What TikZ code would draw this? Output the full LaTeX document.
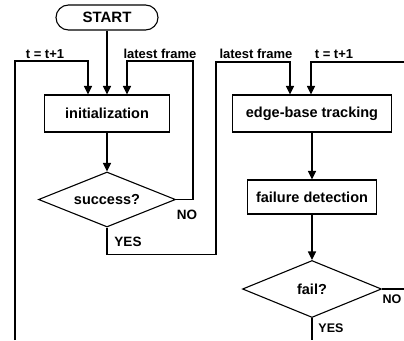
\documentclass[tikz,border=0pt]{standalone}
\usepackage{fontspec}
\setmainfont{Liberation Sans}
\usetikzlibrary{arrows.meta,shapes.geometric}
\tikzset{
  every node/.style={font=\bfseries\fontsize{14.5}{16}\selectfont},
  box/.style={draw,line width=1.1pt,rectangle,inner sep=0pt},
  startbox/.style={draw,line width=1.1pt,rectangle,rounded corners=12.5pt,inner sep=0pt,minimum width=102pt,minimum height=25pt,font=\bfseries\fontsize{15}{16}\selectfont},
  decision/.style={draw,line width=1.1pt,diamond,inner sep=0pt,shape aspect=2.5},
  lbl/.style={inner sep=0pt,font=\bfseries\fontsize{13}{14}\selectfont},
  conn/.style={line width=1.1pt},
  arr/.style={conn,-{Triangle[length=8.5pt,width=8pt]}}
}
\begin{document}
\begin{tikzpicture}[x=1pt,y=-1pt]
\useasboundingbox (0,0) rectangle (404,340);
% nodes
\node[startbox] (start) at (107,17.5) {START};
\node[box,minimum width=125pt,minimum height=37pt] (init) at (107,113.5) {initialization};
\node[decision,minimum width=137pt,minimum height=55pt] (success) at (107,199.5) {success?};
\node[box,minimum width=159pt,minimum height=37pt] (edge) at (312,113.5) {edge-base tracking};
\node[box,minimum width=129pt,minimum height=34pt] (failure) at (312,197) {failure detection};
\node[decision,minimum width=139pt,minimum height=57pt] (fail) at (312,289) {fail?};
% coordinates
\coordinate (lb) at (15,340);
\coordinate (tl) at (88,61);
\coordinate (rt) at (193,61);
\coordinate (lf) at (127,61);
\coordinate (yb) at (216,254.5);
\coordinate (lf2) at (290,62);
\coordinate (rr) at (404,62);
\coordinate (rt2) at (311,62);
\coordinate (re) at (404,289);
\coordinate (fb) at (312,340);
% connectors
\draw[arr] (start.south) -- (start.south |- init.north);
\draw[arr] (lb) |- (tl) -- (tl |- init.north);
\draw[arr] (success.east) -| (rt) -- (lf) -- (lf |- init.north);
\draw[arr] (init.south) -- (success.north);
\draw[arr] (success.south) |- (yb) |- (lf2) -- (lf2 |- edge.north);
\draw[arr] (rr) -- (rt2) -- (rt2 |- edge.north);
\draw[arr] (edge.south) -- (failure.north);
\draw[arr] (failure.south) -- (fail.north);
\draw[conn] (fail.east) -- (re);
\draw[conn] (fail.south) -- (fb);
% labels
\node[lbl] (l1) at (45,54) {t = t+1};
\node[lbl] (l2) at (160,54) {latest frame};
\node[lbl] (l3) at (256,54) {latest frame};
\node[lbl] (l4) at (334,54) {t = t+1};
\node[lbl,font=\bfseries\fontsize{13.5}{14}\selectfont] (no1) at (187,215) {NO};
\node[lbl,font=\bfseries\fontsize{13.5}{14}\selectfont] (yes1) at (128,242) {YES};
\node[lbl,font=\bfseries\fontsize{12.5}{14}\selectfont] (no2) at (392,299) {NO};
\node[lbl,font=\bfseries\fontsize{12.5}{14}\selectfont] (yes2) at (331,328) {YES};
\end{tikzpicture}
\end{document}
